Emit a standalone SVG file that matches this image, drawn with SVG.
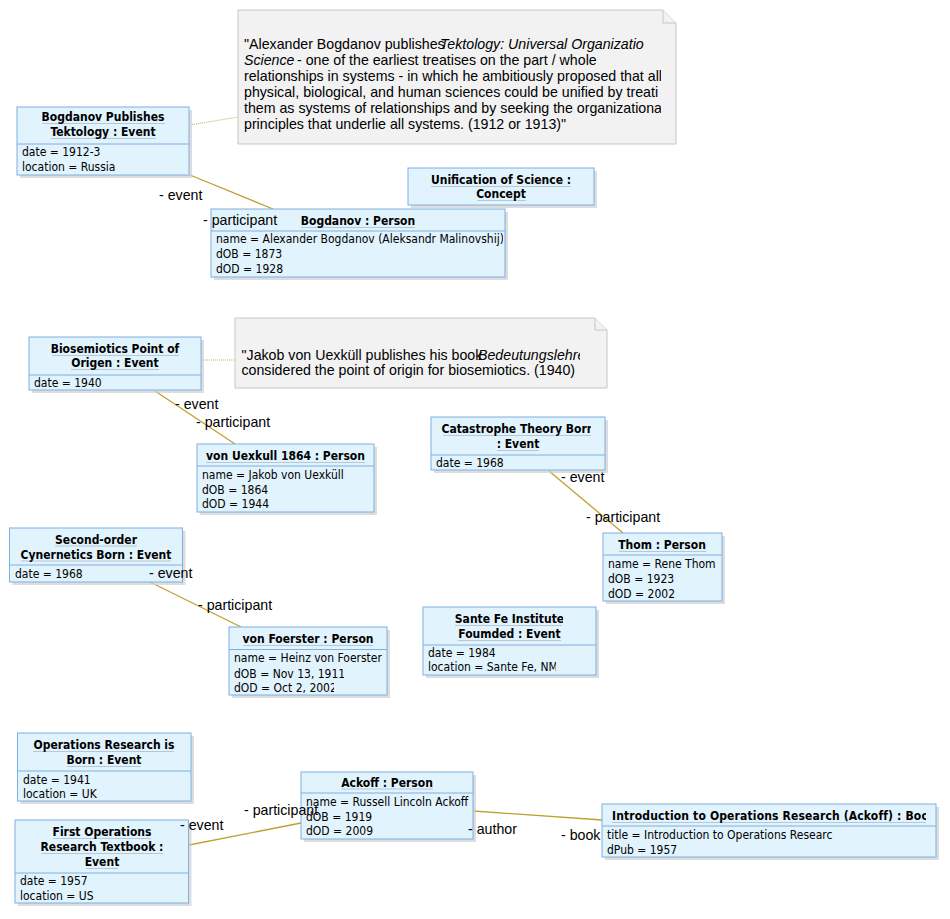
<svg xmlns="http://www.w3.org/2000/svg" width="950" height="919" viewBox="0 0 950 919">
<style>
.box{fill:#e1f3fd;stroke:#7eb0e2;stroke-width:1}
.sh{fill:#cfcfcf;opacity:0.7}
.dv{stroke:#7eb0e2;stroke-width:1}
.ul{stroke:#b9c7d3;stroke-width:1}
.t{font-family:"DejaVu Sans Condensed","DejaVu Sans",sans-serif;font-stretch:condensed;font-size:12px;fill:#000}
.b{font-weight:bold;text-anchor:middle}
.lbl{font-family:"Liberation Sans",Arial,sans-serif;font-size:14.2px;fill:#000}
.it{font-style:italic}
.conn{stroke:#bfa030;stroke-width:1.3;fill:none}
.dot{stroke:#c8b048;stroke-width:1;stroke-dasharray:1,1;fill:none}
.note{fill:#f2f2f2;stroke:#c6c6c6;stroke-width:1}
</style>
<defs>
<clipPath id="cn1"><rect x="238" y="10" width="423" height="134"/></clipPath>
<clipPath id="cn2"><rect x="236" y="318" width="344" height="70"/></clipPath>
<clipPath id="cCat"><rect x="431" y="417" width="160" height="53"/></clipPath>
<clipPath id="cThom"><rect x="603" y="533" width="117" height="68"/></clipPath>
<clipPath id="cFoe1"><rect x="229" y="650" width="153" height="15"/></clipPath>
<clipPath id="cFoe2"><rect x="229" y="665" width="115" height="15"/></clipPath>
<clipPath id="cFoe3"><rect x="229" y="680" width="105" height="15"/></clipPath>
<clipPath id="cSF1"><rect x="423" y="607" width="140" height="20"/></clipPath>
<clipPath id="cSF2"><rect x="423" y="660" width="133" height="15"/></clipPath>
<clipPath id="cInt"><rect x="602" y="804" width="324" height="22"/></clipPath>
<clipPath id="cIntA"><rect x="602" y="826" width="231" height="16"/></clipPath>
<clipPath id="cBog"><rect x="211" y="209" width="292" height="68"/></clipPath>
</defs>

<g id="connectors">
<line class="dot" x1="190" y1="125" x2="238" y2="117"/>
<line class="dot" x1="201" y1="360" x2="235" y2="360"/>
<line class="conn" x1="190" y1="175" x2="273" y2="209"/>
<line class="conn" x1="155" y1="391" x2="235" y2="444"/>
<line class="conn" x1="549" y1="471" x2="623" y2="533"/>
<line class="conn" x1="150" y1="582" x2="241" y2="627"/>
<line class="conn" x1="189" y1="845" x2="301" y2="823"/>
<line class="conn" x1="473" y1="811" x2="602" y2="820"/>
</g>

<g id="note1">
<path class="note" d="M238,10 H663 L676,23 V144 H238 Z"/>
<path class="note" d="M663,10 V23 H676" fill="none"/>
<g clip-path="url(#cn1)" class="lbl">
<text x="244" y="49">"Alexander Bogdanov publishes</text>
<text x="440" y="49" class="it">Tektology: Universal Organizatio</text>
<text x="244" y="65" class="it">Science</text>
<text x="297" y="65">- one of the earliest treatises on the part / whole</text>
<text x="244" y="81">relationships in systems - in which he ambitiously proposed that all</text>
<text x="244" y="97">physical, biological, and human sciences could be unified by treati</text>
<text x="244" y="113">them as systems of relationships and by seeking the organizationa</text>
<text x="244" y="129">principles that underlie all systems. (1912 or 1913)"</text>
</g>
</g>

<g id="note2">
<path class="note" d="M235,318 H595 L607,330 V388 H235 Z"/>
<path class="note" d="M595,318 V330 H607" fill="none"/>
<g clip-path="url(#cn2)" class="lbl">
<text x="241.5" y="360">"Jakob von Uexküll publishes his book</text>
<text x="478" y="360" class="it">Bedeutungslehre</text>
<text x="241.5" y="374.5">considered the point of origin for biosemiotics. (1940)</text>
</g>
</g>

<g id="bogdanovPublishes">
<rect class="sh" x="20" y="110" width="172" height="68"/>
<rect class="box" x="17" y="107" width="172" height="68"/>
<line class="dv" x1="17" y1="144" x2="189" y2="144"/>
<line class="ul" x1="42" y1="123.5" x2="165" y2="123.5"/>
<line class="ul" x1="51" y1="138.5" x2="156" y2="138.5"/>
<text class="t b" x="103" y="121">Bogdanov Publishes</text>
<text class="t b" x="103" y="136">Tektology : Event</text>
<text class="t" x="22" y="156">date = 1912-3</text>
<text class="t" x="22" y="171">location = Russia</text>
</g>

<g id="unification">
<rect class="sh" x="411" y="171" width="186" height="37"/>
<rect class="box" x="408" y="168" width="186" height="37"/>
<line class="ul" x1="431" y1="186.5" x2="571" y2="186.5"/>
<line class="ul" x1="477" y1="200.5" x2="526" y2="200.5"/>
<text class="t b" x="501" y="184">Unification of Science :</text>
<text class="t b" x="501" y="198">Concept</text>
</g>

<g id="bogdanovPerson">
<rect class="sh" x="214" y="212" width="294" height="68"/>
<rect class="box" x="211" y="209" width="294" height="68"/>
<line class="dv" x1="211" y1="231" x2="505" y2="231"/>
<line class="ul" x1="301" y1="227.5" x2="415" y2="227.5"/>
<text class="t b" x="358" y="225">Bogdanov : Person</text>
<g clip-path="url(#cBog)">
<text class="t" x="216" y="243">name = Alexander Bogdanov (Aleksandr Malinovshij)</text>
</g>
<text class="t" x="216" y="258">dOB = 1873</text>
<text class="t" x="216" y="273">dOD = 1928</text>
</g>

<g id="biosemiotics">
<rect class="sh" x="32" y="340" width="172" height="53"/>
<rect class="box" x="29" y="337" width="172" height="53"/>
<line class="dv" x1="29" y1="375" x2="201" y2="375"/>
<line class="ul" x1="52" y1="355.5" x2="179" y2="355.5"/>
<line class="ul" x1="71" y1="369.5" x2="159" y2="369.5"/>
<text class="t b" x="115" y="353">Biosemiotics Point of</text>
<text class="t b" x="115" y="367">Origen : Event</text>
<text class="t" x="34" y="387">date = 1940</text>
</g>

<g id="vonUexkull">
<rect class="sh" x="200" y="447" width="177" height="68"/>
<rect class="box" x="197" y="444" width="177" height="68"/>
<line class="dv" x1="197" y1="466" x2="374" y2="466"/>
<line class="ul" x1="206" y1="462.5" x2="365" y2="462.5"/>
<text class="t b" x="285.5" y="460">von Uexkull 1864 : Person</text>
<text class="t" x="202" y="478.5">name = Jakob von Uexküll</text>
<text class="t" x="202" y="494">dOB = 1864</text>
<text class="t" x="202" y="508">dOD = 1944</text>
</g>

<g id="catastrophe">
<rect class="sh" x="434" y="420" width="174" height="53"/>
<rect class="box" x="431" y="417" width="174" height="53"/>
<line class="dv" x1="431" y1="455" x2="605" y2="455"/>
<line class="ul" x1="443" y1="435.5" x2="591" y2="435.5"/>
<line class="ul" x1="497" y1="450.5" x2="539" y2="450.5"/>
<g clip-path="url(#cCat)">
<text class="t b" x="518" y="433">Catastrophe Theory Born</text>
</g>
<text class="t b" x="518" y="448">: Event</text>
<text class="t" x="436" y="467">date = 1968</text>
</g>

<g id="thom">
<rect class="sh" x="606" y="536" width="119" height="68"/>
<rect class="box" x="603" y="533" width="119" height="68"/>
<line class="dv" x1="603" y1="555" x2="722" y2="555"/>
<line class="ul" x1="619" y1="551.5" x2="706" y2="551.5"/>
<text class="t b" x="662" y="549">Thom : Person</text>
<g clip-path="url(#cThom)">
<text class="t" x="608" y="567.5">name = Rene Thom</text>
</g>
<text class="t" x="608" y="583">dOB = 1923</text>
<text class="t" x="608" y="597.5">dOD = 2002</text>
</g>

<g id="secondOrder">
<rect class="sh" x="12.5" y="531" width="173" height="54"/>
<rect class="box" x="9.5" y="528" width="173" height="54"/>
<line class="dv" x1="9.5" y1="565" x2="182.5" y2="565"/>
<line class="ul" x1="55" y1="546" x2="137" y2="546"/>
<line class="ul" x1="21" y1="561" x2="171" y2="561"/>
<text class="t b" x="96" y="543.5">Second-order</text>
<text class="t b" x="96" y="558.5">Cynernetics Born : Event</text>
<text class="t" x="15" y="577.5">date = 1968</text>
</g>

<g id="vonFoerster">
<rect class="sh" x="232" y="630" width="158" height="68"/>
<rect class="box" x="229" y="627" width="158" height="68"/>
<line class="dv" x1="229" y1="649.5" x2="387" y2="649.5"/>
<line class="ul" x1="243" y1="645.5" x2="373" y2="645.5"/>
<text class="t b" x="308" y="643">von Foerster : Person</text>
<text class="t" x="234" y="662" clip-path="url(#cFoe1)">name = Heinz von Foerster</text>
<text class="t" x="234" y="677.5" clip-path="url(#cFoe2)">dOB = Nov 13, 1911</text>
<text class="t" x="234" y="691.5" clip-path="url(#cFoe3)">dOD = Oct 2, 2002</text>
</g>

<g id="santeFe">
<rect class="sh" x="426" y="610" width="173" height="68"/>
<rect class="box" x="423" y="607" width="173" height="68"/>
<line class="dv" x1="423" y1="645" x2="596" y2="645"/>
<line class="ul" x1="455" y1="625.5" x2="562" y2="625.5"/>
<line class="ul" x1="458" y1="640.5" x2="561" y2="640.5"/>
<text class="t b" x="509.5" y="623" clip-path="url(#cSF1)">Sante Fe Institute</text>
<text class="t b" x="509.5" y="638">Foumded : Event</text>
<text class="t" x="428" y="657">date = 1984</text>
<text class="t" x="428" y="671" clip-path="url(#cSF2)">location = Sante Fe, NM</text>
</g>

<g id="opsResearch">
<rect class="sh" x="20.5" y="736" width="173.5" height="68"/>
<rect class="box" x="17.5" y="733" width="173.5" height="68"/>
<line class="dv" x1="17.5" y1="771" x2="191" y2="771"/>
<line class="ul" x1="33" y1="751.5" x2="174" y2="751.5"/>
<line class="ul" x1="67" y1="766.5" x2="141" y2="766.5"/>
<text class="t b" x="104" y="749">Operations Research is</text>
<text class="t b" x="104" y="764">Born : Event</text>
<text class="t" x="23" y="783.5">date = 1941</text>
<text class="t" x="23" y="798">location = UK</text>
</g>

<g id="firstTextbook">
<rect class="sh" x="18" y="823" width="173.5" height="83"/>
<rect class="box" x="15" y="820" width="173.5" height="83"/>
<line class="dv" x1="15" y1="873" x2="188.5" y2="873"/>
<line class="ul" x1="53" y1="838.5" x2="151" y2="838.5"/>
<line class="ul" x1="41" y1="853.5" x2="163" y2="853.5"/>
<line class="ul" x1="86" y1="868.5" x2="118" y2="868.5"/>
<text class="t b" x="102" y="836">First Operations</text>
<text class="t b" x="102" y="851">Research Textbook :</text>
<text class="t b" x="102" y="866">Event</text>
<text class="t" x="20" y="885">date = 1957</text>
<text class="t" x="20" y="900">location = US</text>
</g>

<g id="ackoff">
<rect class="sh" x="304" y="775" width="172" height="67"/>
<rect class="box" x="301" y="772" width="172" height="67"/>
<line class="dv" x1="301" y1="793" x2="473" y2="793"/>
<line class="ul" x1="341" y1="789" x2="433" y2="789"/>
<text class="t b" x="387" y="786.5">Ackoff : Person</text>
<text class="t" x="306" y="806">name = Russell Lincoln Ackoff</text>
<text class="t" x="306" y="821">dOB = 1919</text>
<text class="t" x="306" y="835">dOD = 2009</text>
</g>

<g id="introBook">
<rect class="sh" x="605" y="807" width="334" height="53"/>
<rect class="box" x="602" y="804" width="334" height="53"/>
<line class="dv" x1="602" y1="826" x2="936" y2="826"/>
<line class="ul" x1="612" y1="822.5" x2="926" y2="822.5"/>
<text class="t b" x="612" y="820" style="text-anchor:start;letter-spacing:0.15px" clip-path="url(#cInt)">Introduction to Operations Research (Ackoff) : Book</text>
<text class="t" x="607" y="839" clip-path="url(#cIntA)">title = Introduction to Operations Research</text>
<text class="t" x="607" y="854">dPub = 1957</text>
</g>

<g id="labels" class="lbl">
<text x="159" y="200">- event</text>
<text x="203" y="225">- participant</text>
<text x="175" y="409">- event</text>
<text x="196" y="427">- participant</text>
<text x="561" y="482">- event</text>
<text x="586" y="522">- participant</text>
<text x="149" y="578">- event</text>
<text x="198" y="610">- participant</text>
<text x="244" y="815">- participant</text>
<text x="180" y="830">- event</text>
<text x="468" y="834">- author</text>
<text x="561" y="840">- book</text>
</g>
</svg>
